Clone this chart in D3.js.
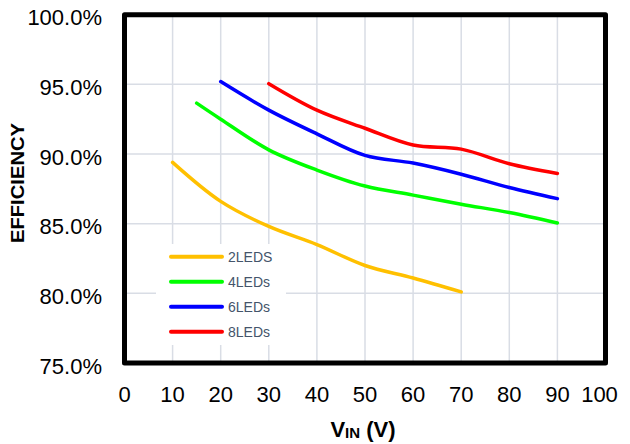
<!DOCTYPE html>
<html>
<head>
<meta charset="utf-8">
<script src="https://cdn.jsdelivr.net/npm/d3@7/dist/d3.min.js"></script>
<style>
  html, body { margin: 0; padding: 0; background: #fff; }
  svg { display: block; font-family: "Liberation Sans", Arial, sans-serif; }
</style>
</head>
<body>
<svg id="chart" width="630" height="444"></svg>
<script>
// ---- Data ----
const seriesNames = ["2LEDS", "4LEDs", "6LEDs", "8LEDs"];
const seriesColors = ["#FFC000", "#00FF00", "#0000FF", "#FF0000"];
const vin2 = [10, 20, 30, 40, 50, 60, 70];
const eff2 = [89.4, 86.6, 84.8, 83.5, 82.0, 81.1, 80.1];
const vin4 = [15, 20, 30, 40, 50, 60, 70, 80, 90];
const eff4 = [93.65, 92.5, 90.3, 88.85, 87.7, 87.05, 86.4, 85.8, 85.05];
const vin6 = [20, 30, 40, 50, 60, 70, 80, 90];
const eff6 = [95.2, 93.15, 91.45, 89.9, 89.35, 88.55, 87.6, 86.8];
const vin8 = [30, 40, 50, 60, 70, 80, 90];
const eff8 = [95.05, 93.15, 91.85, 90.65, 90.35, 89.3, 88.6];
const xTicks = [0, 10, 20, 30, 40, 50, 60, 70, 80, 90, 100];
const yTicks = [75, 80, 85, 90, 95, 100];

const series = [
  { name: seriesNames[0], color: seriesColors[0], xs: vin2, ys: eff2 },
  { name: seriesNames[1], color: seriesColors[1], xs: vin4, ys: eff4 },
  { name: seriesNames[2], color: seriesColors[2], xs: vin6, ys: eff6 },
  { name: seriesNames[3], color: seriesColors[3], xs: vin8, ys: eff8 }
];

// ---- Layout ----
const pL = 124.5, pR = 605.5, pT = 14.7, pB = 363;
const svg = d3.select("#chart");
const x = d3.scaleLinear().domain([0, 100]).range([pL, pR]);
const y = d3.scaleLinear().domain([75, 100]).range([pB, pT]);

// Gridlines
const grid = svg.append("g");
grid.selectAll("line.v").data(xTicks.slice(1, -1)).join("line")
  .attr("x1", d => x(d)).attr("x2", d => x(d))
  .attr("y1", pT).attr("y2", pB)
  .attr("stroke", "#d9dde5").attr("stroke-width", 1.5);
grid.selectAll("line.h").data(yTicks.slice(1, -1)).join("line")
  .attr("x1", pL).attr("x2", pR)
  .attr("y1", d => y(d)).attr("y2", d => y(d))
  .attr("stroke", "#d9dde5").attr("stroke-width", 1.5);

// Lines
const line = d3.line()
  .x(d => x(d[0])).y(d => y(d[1]))
  .curve(d3.curveCatmullRom.alpha(0.5));
svg.append("g").selectAll("path").data(series).join("path")
  .attr("d", s => line(s.xs.map((v, i) => [v, s.ys[i]])))
  .attr("fill", "none")
  .attr("stroke", s => s.color)
  .attr("stroke-width", 3.5)
  .attr("stroke-linecap", "round")
  .attr("stroke-linejoin", "round");

// Legend
const lg = svg.append("g");
lg.append("rect").attr("x", 156).attr("y", 244).attr("width", 130).attr("height", 101)
  .attr("fill", "#fff");
series.forEach((s, i) => {
  const cy = 256.7 + i * 25;
  lg.append("line").attr("x1", 171).attr("x2", 222).attr("y1", cy).attr("y2", cy)
    .attr("stroke", s.color).attr("stroke-width", 4).attr("stroke-linecap", "round");
  lg.append("text").attr("x", 228).attr("y", cy).attr("dy", "0.36em")
    .attr("font-size", 14).attr("fill", "#44546A").text(s.name);
});

// Border
svg.append("rect").attr("x", pL).attr("y", pT)
  .attr("width", pR - pL).attr("height", pB - pT)
  .attr("fill", "none").attr("stroke", "#000").attr("stroke-width", 5)
  .attr("stroke-linejoin", "round");

// Y tick labels
svg.append("g").selectAll("text").data(yTicks).join("text")
  .attr("x", 102).attr("y", d => y(d) + 10.5)
  .attr("text-anchor", "end").attr("font-size", 22).attr("fill", "#000")
  .text(d => d3.format(".1f")(d) + "%");

// X tick labels
svg.append("g").selectAll("text").data(xTicks).join("text")
  .attr("x", d => x(d) + (d === 100 ? -6 : 0)).attr("y", 401.5)
  .attr("text-anchor", "middle").attr("font-size", 22).attr("fill", "#000")
  .text(d => d);

// Axis titles
svg.append("text")
  .attr("transform", "translate(24,183) rotate(-90)")
  .attr("text-anchor", "middle").attr("font-size", 19).attr("font-weight", "bold")
  .attr("textLength", 120).attr("lengthAdjust", "spacingAndGlyphs")
  .text("EFFICIENCY");

const xt = svg.append("text")
  .attr("x", 363).attr("y", 436.5).attr("text-anchor", "middle")
  .attr("font-weight", "bold").attr("font-size", 22);
xt.append("tspan").text("V");
xt.append("tspan").attr("font-size", 15).attr("dy", 1).text("IN");
xt.append("tspan").attr("dy", -1).text(" (V)");
</script>
</body>
</html>
